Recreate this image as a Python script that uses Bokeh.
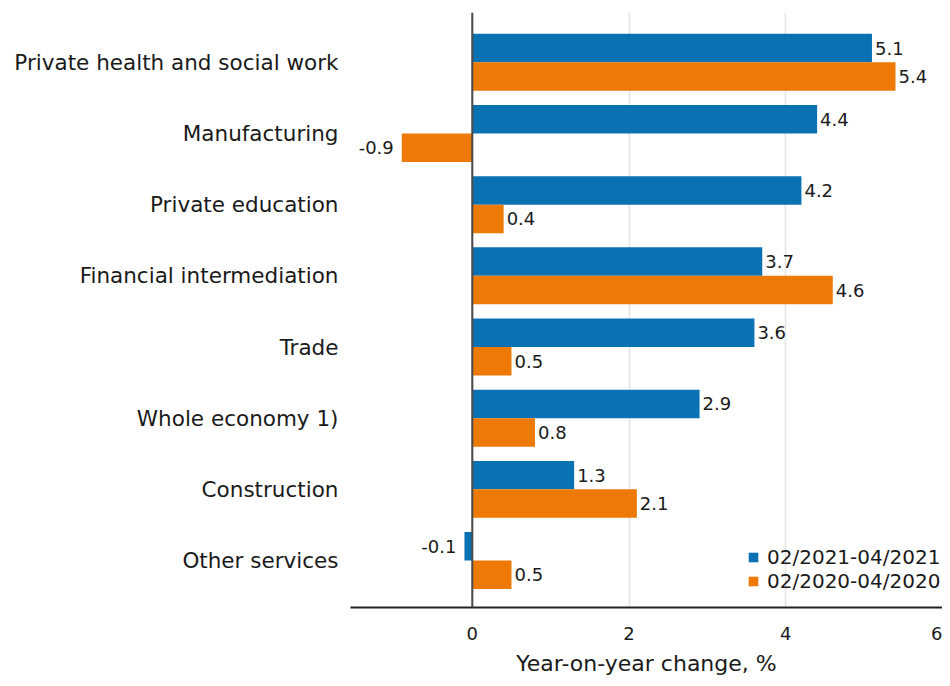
from bokeh.plotting import figure
from bokeh.models import ColumnDataSource, Span, FixedTicker, Range1d, Legend, LegendItem, Title
from bokeh.core.properties import value
from bokeh.embed import file_html
from bokeh.resources import INLINE

categories = ["Private health and social work", "Manufacturing", "Private education",
              "Financial intermediation", "Trade", "Whole economy 1)", "Construction",
              "Other services"]
series_2021 = [5.1, 4.4, 4.2, 3.7, 3.6, 2.9, 1.3, -0.1]
series_2020 = [5.4, -0.9, 0.4, 4.6, 0.5, 0.8, 2.1, 0.5]
label_2021 = "02/2021-04/2021"
label_2020 = "02/2020-04/2020"
x_ticks = [0, 2, 4, 6]
x_title = "Year-on-year change, %"

BLUE = "#0a71b3"
ORANGE = "#ed7906"
FONT = "DejaVu Sans"
TXT = "#1a1a1a"

n = len(categories)
pos = [n - 1 - i for i in range(n)]
y_blue = [p + 0.2 for p in pos]
y_orange = [p - 0.2 for p in pos]

p = figure(width=942, height=686, output_backend="svg", toolbar_location=None,
           x_range=Range1d(-1.554, 6.0), y_range=Range1d(-0.66, n - 1 + 0.70),
           min_border_left=350, min_border_right=0, min_border_top=12, min_border_bottom=79)
p.outline_line_color = None
p.background_fill_color = "white"

src_b = ColumnDataSource(dict(y=y_blue, v=series_2021))
src_o = ColumnDataSource(dict(y=y_orange, v=series_2020))

rb = p.hbar(y="y", left=0, right="v", height=0.4, source=src_b, fill_color=BLUE, line_color=None)
ro = p.hbar(y="y", left=0, right="v", height=0.4, source=src_o, fill_color=ORANGE, line_color=None)

for vals, ys in ((series_2021, y_blue), (series_2020, y_orange)):
    pos_src = ColumnDataSource(dict(x=[v for v in vals if v >= 0], y=[y for v, y in zip(vals, ys) if v >= 0],
                                    t=[f"{v:.1f}" for v in vals if v >= 0]))
    neg_src = ColumnDataSource(dict(x=[v for v in vals if v < 0], y=[y for v, y in zip(vals, ys) if v < 0],
                                    t=[f"{v:.1f}" for v in vals if v < 0]))
    p.text(x="x", y="y", text="t", source=pos_src, x_offset=3, text_align="left", text_baseline="middle",
           text_font=value(FONT), text_font_size="18px", text_color=TXT)
    p.text(x="x", y="y", text="t", source=neg_src, x_offset=-8, text_align="right", text_baseline="middle",
           text_font=value(FONT), text_font_size="18px", text_color=TXT)

p.add_layout(Span(location=0, dimension="height", line_color="#4a4a4a", line_width=2))

p.xgrid.ticker = FixedTicker(ticks=x_ticks)
p.xgrid.grid_line_color = "#e3e3e3"
p.xgrid.grid_line_width = 1.5
p.ygrid.grid_line_color = None

p.xaxis.ticker = FixedTicker(ticks=x_ticks)
p.xaxis.axis_line_color = "#222222"
p.xaxis.axis_line_width = 2
p.xaxis.major_tick_line_color = None
p.xaxis.minor_tick_line_color = None
p.xaxis.major_tick_out = 0
p.xaxis.major_tick_in = 0
p.xaxis.major_label_standoff = 19
p.xaxis.major_label_text_font = FONT
p.xaxis.major_label_text_font_size = "18px"
p.xaxis.major_label_text_color = TXT

p.add_layout(Title(text=x_title, align="center", text_font=FONT, text_font_size="22px",
                   text_font_style="normal", text_color=TXT, standoff=13, offset=0), "below")

p.yaxis.ticker = FixedTicker(ticks=pos)
p.yaxis.major_label_overrides = {pp: c for pp, c in zip(pos, categories)}
p.yaxis.axis_line_color = None
p.yaxis.major_tick_line_color = None
p.yaxis.minor_tick_line_color = None
p.yaxis.major_tick_out = 0
p.yaxis.major_tick_in = 0
p.yaxis.major_label_standoff = 12
p.yaxis.major_label_text_font = FONT
p.yaxis.major_label_text_font_size = "21.5px"
p.yaxis.major_label_text_color = TXT

legend = Legend(items=[LegendItem(label=label_2021, renderers=[rb]), LegendItem(label=label_2020, renderers=[ro])],
                location=(397, 14), border_line_color=None, background_fill_alpha=0.0,
                label_text_font=FONT, label_text_font_size="20px", label_text_color=TXT,
                glyph_width=12, glyph_height=12, spacing=0, padding=2, margin=0, label_standoff=8,
                label_height=21)
p.add_layout(legend)

open("out.html", "w").write(file_html(p, INLINE))
